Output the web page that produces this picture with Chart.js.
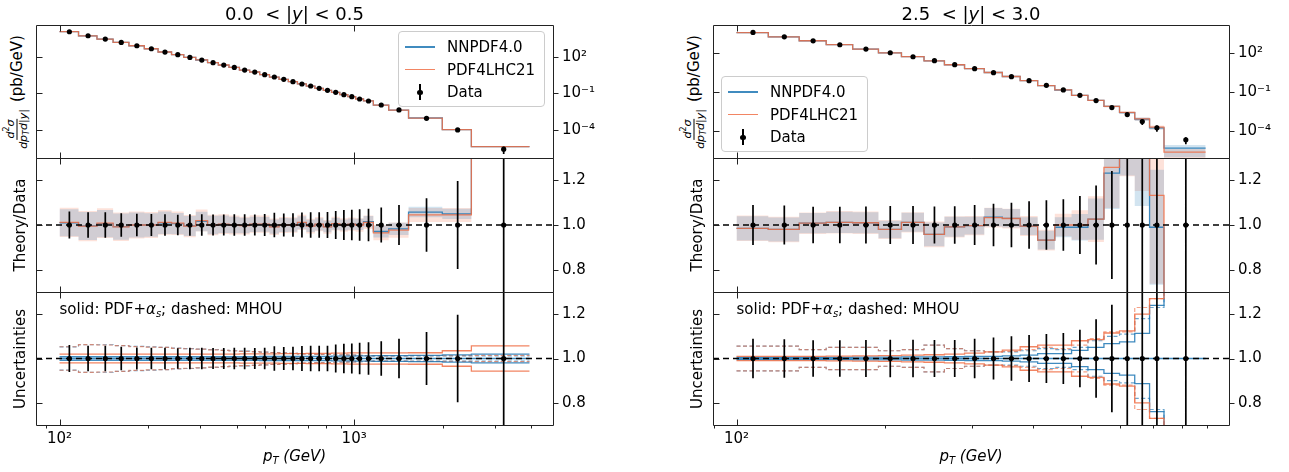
<!DOCTYPE html>
<html><head><meta charset="utf-8">
<script src="https://cdn.jsdelivr.net/npm/chart.js@4.4.1/dist/chart.umd.min.js"></script>
<style>
html,body{margin:0;padding:0;background:#fff}
body{width:1289px;height:472px;overflow:hidden;position:relative;font-family:"DejaVu Sans",sans-serif;color:#000}
canvas{position:absolute}
.txt{position:absolute;white-space:nowrap;font-size:15px;line-height:17px}
.title{position:absolute;white-space:nowrap;font-size:18px;line-height:20px;transform:translateX(-50%)}
.ylab{position:absolute;white-space:nowrap;font-size:15px;line-height:17px;transform:translate(-50%,-50%) rotate(-90deg);display:flex;align-items:center}
.frac{display:inline-flex;flex-direction:column;align-items:center;font-size:11px;line-height:12px;margin-right:7px}
.frac .num{border-bottom:1px solid #000;padding:0 1px}
sub{font-size:10px;line-height:0;vertical-align:-3px}
.legend{position:absolute;background:rgba(255,255,255,0.85);border:1px solid #ccc;border-radius:4px;box-sizing:border-box;padding:4px 6px;font-size:15px;z-index:5}
.legend .row{display:flex;align-items:center;height:22.5px}
.legend .sw{position:relative;width:30px;height:16px;margin-right:12px}
.legend .ln{position:absolute;left:0;right:0;top:7px;height:1.6px}
.legend .eb{position:absolute;left:14px;top:0;width:1.6px;height:16px;background:#000}
.legend .dot{position:absolute;left:12px;top:5.5px;width:5.5px;height:5.5px;border-radius:50%;background:#000}
</style></head><body>
<script>
// ---------------- DATA ----------------
// pT bin edges (GeV)
const edgesLeft  = [100,116,134,152,172,194,216,240,264,290,318,346,376,408,442,478,516,556,598,642,688,736,786,838,894,952,1012,1076,1162,1310,1530,1992,2500,3937];
const edgesRight = [100,116,134,152,172,194,216,240,264,290,318,346,376,408,442,478,516,556,598,642,688,736,894];

// measured cross section d2sigma/dpT d|y| (pb/GeV)
const dataLeft  = [1.11e4,5.22e3,2.79e3,1.49e3,7.94e2,4.51e2,2.41e2,1.46e2,8.81e1,5.33e1,3.23e1,2.08e1,1.34e1,8.11,5.56,3.37,2.17,1.40,0.902,0.581,0.398,0.257,0.176,0.121,7.78e-2,5.33e-2,3.44e-2,2.36e-2,1.11e-2,4.34e-3,9.02e-4,1.0e-4,2.63e-6];
const dataRight = [4.19e3,1.94e3,9.51e2,4.67e2,2.16e2,1.12e2,5.53e1,2.72e1,1.33e1,6.55,3.21,1.58,0.774,0.338,0.148,5.71e-2,2.21e-2,6.37e-3,1.84e-3,5.28e-4,1.71e-4,2.03e-5];

// relative data uncertainty
const errLeft  = [0.061,0.057,0.057,0.053,0.05,0.049,0.048,0.046,0.048,0.048,0.047,0.047,0.048,0.048,0.047,0.049,0.055,0.052,0.053,0.056,0.057,0.057,0.058,0.063,0.067,0.068,0.071,0.073,0.078,0.089,0.12,0.197,0.6];
const errRight = [0.089,0.087,0.082,0.082,0.083,0.085,0.085,0.083,0.084,0.089,0.095,0.1,0.106,0.111,0.115,0.13,0.177,0.242,0.35,0.45,0.5,0.55];

// Theory / Data
const ratioNNLeft   = [1.01,0.996,1.006,0.993,1.0,1.0,1.01,1.006,0.996,1.016,1.0,1.003,1.0,0.998,1.003,1.003,0.993,1.0,1.0,1.01,0.996,1.003,0.993,1.005,1.0,1.004,1.003,1.015,0.971,0.983,1.058,1.05,1.66];
const ratioPDFLeft  = [1.012,0.995,1.008,0.992,1.0,1.0,1.012,1.008,0.995,1.02,1.0,1.004,1.0,0.997,1.004,1.004,0.992,1.0,1.0,1.012,0.995,1.004,0.992,1.006,1.0,1.004,1.0,1.012,0.965,0.977,1.045,1.045,1.65];
const ratioNNRight  = [0.985,0.98,1.008,1.012,1.01,0.98,1.012,0.958,0.992,0.997,1.035,1.03,0.995,0.932,0.99,0.99,1.026,1.232,1.42,1.55,0.99,0.225];
const ratioPDFRight = [0.985,0.98,1.008,1.012,1.01,0.98,1.012,0.958,0.992,0.997,1.033,1.029,0.995,0.932,1.0,1.0,1.026,1.258,1.45,1.6,1.133,0.111];

// relative theory band (Theory/Data panel)
const bandNNLeft   = [0.06,0.063,0.061,0.059,0.056,0.053,0.05,0.047,0.045,0.043,0.041,0.039,0.037,0.035,0.034,0.033,0.032,0.031,0.03,0.029,0.028,0.027,0.026,0.026,0.025,0.025,0.025,0.025,0.028,0.028,0.022,0.022,0.08];
const bandPDFLeft  = [0.065,0.068,0.066,0.064,0.061,0.058,0.055,0.052,0.05,0.048,0.046,0.044,0.042,0.04,0.039,0.038,0.037,0.036,0.035,0.034,0.033,0.032,0.031,0.031,0.03,0.03,0.03,0.03,0.035,0.035,0.03,0.03,0.1];
const bandNNRight  = [0.055,0.055,0.045,0.047,0.047,0.04,0.042,0.055,0.045,0.04,0.04,0.04,0.04,0.045,0.045,0.06,0.09,0.13,0.14,0.3,0.26,0.8];
const bandPDFRight = [0.058,0.058,0.048,0.05,0.05,0.043,0.045,0.06,0.048,0.043,0.043,0.043,0.045,0.05,0.05,0.066,0.1,0.145,0.16,0.28,0.35,0.8];

// Uncertainties panel: PDF+alpha_s (solid) and MHOU (dashed), relative
const pdfNNLeft   = [0.008,0.008,0.008,0.008,0.008,0.008,0.008,0.008,0.008,0.008,0.008,0.008,0.008,0.008,0.008,0.009,0.009,0.009,0.009,0.01,0.01,0.01,0.01,0.011,0.011,0.011,0.012,0.012,0.013,0.013,0.014,0.016,0.02];
const pdfPDFLeft  = [0.02,0.02,0.02,0.02,0.02,0.02,0.02,0.02,0.02,0.02,0.02,0.02,0.02,0.021,0.021,0.021,0.021,0.022,0.022,0.022,0.023,0.023,0.023,0.024,0.024,0.025,0.025,0.025,0.025,0.025,0.026,0.035,0.057];
const mhouNNLeft  = [0.052,0.062,0.062,0.058,0.055,0.052,0.05,0.047,0.045,0.042,0.04,0.037,0.035,0.033,0.031,0.029,0.027,0.025,0.023,0.021,0.02,0.019,0.018,0.017,0.016,0.015,0.014,0.013,0.012,0.012,0.012,0.012,0.012];
const mhouPDFLeft = [0.053,0.063,0.061,0.058,0.054,0.051,0.05,0.046,0.044,0.042,0.039,0.037,0.034,0.032,0.031,0.029,0.027,0.025,0.023,0.021,0.02,0.019,0.018,0.017,0.016,0.015,0.014,0.013,0.012,0.012,0.013,0.013,0.014];
const pdfNNRight   = [0.005,0.005,0.005,0.005,0.006,0.006,0.007,0.007,0.008,0.009,0.01,0.012,0.015,0.022,0.022,0.037,0.05,0.067,0.075,0.113,0.24,0.45];
const pdfPDFRight  = [0.01,0.01,0.01,0.011,0.012,0.013,0.015,0.017,0.02,0.024,0.03,0.038,0.053,0.06,0.06,0.08,0.085,0.115,0.125,0.2,0.27,0.45];
const mhouNNRight  = [0.056,0.056,0.04,0.05,0.05,0.035,0.04,0.06,0.045,0.035,0.03,0.03,0.035,0.045,0.04,0.05,0.08,0.1,0.11,0.18,0.23,0.4];
const mhouPDFRight = [0.056,0.056,0.04,0.05,0.05,0.035,0.04,0.06,0.045,0.035,0.03,0.032,0.04,0.05,0.045,0.06,0.09,0.12,0.12,0.23,0.27,0.45];

// ticks
const xTickValues = [100, 1000];
const xTickLabels = ['10²', '10³'];
const xMinorTicks = [90,200,300,400,500,600,700,800,900,2000,3000,4000];
const yTopTickValues = [1e-4, 1e-1, 1e2];
const yTopTickLabels = ['10⁻⁴', '10⁻¹', '10²'];
const yRatioTickValues = [0.8, 1.0, 1.2];
const yRatioTickLabels = ['0.8', '1.0', '1.2'];

// text
const titles = ['0.0&nbsp; &lt; |<i>y</i>| &lt; 0.5', '2.5&nbsp; &lt; |<i>y</i>| &lt; 3.0'];
const seriesNames = ['NNPDF4.0', 'PDF4LHC21', 'Data'];

// ---------------- LAYOUT / STYLE ----------------
const FONT = '"DejaVu Sans", sans-serif';
const PAD = 2, RIGHTW = 60, BOTTOMH = 34;
const C_NN = 'rgba(31,119,180,0.85)', C_PDF = 'rgba(240,112,72,0.85)';
const B_NN = 'rgba(31,119,180,0.2)', B_PDF = 'rgba(245,110,70,0.2)';
const D_NN = 'rgba(31,119,180,0.65)', D_PDF = 'rgba(240,112,72,0.65)';
const ROWS = [{y0:25, y1:158}, {y0:158, y1:292}, {y0:292, y1:425}];
const PANELS = [
  {x0:36, x1:553, xMin:83.2, xMax:4732, yMin:Math.pow(10,-6.3), yMax:Math.pow(10,4.6),
   edges:edgesLeft, data:dataLeft, err:errLeft, rNN:ratioNNLeft, rPDF:ratioPDFLeft, bNN:bandNNLeft, bPDF:bandPDFLeft,
   pNN:pdfNNLeft, pPDF:pdfPDFLeft, mNN:mhouNNLeft, mPDF:mhouPDFLeft, legend:{left:398, top:31}},
  {x0:713, x1:1229, xMin:89.6, xMax:997, yMin:Math.pow(10,-6.1), yMax:Math.pow(10,4.2),
   edges:edgesRight, data:dataRight, err:errRight, rNN:ratioNNRight, rPDF:ratioPDFRight, bNN:bandNNRight, bPDF:bandPDFRight,
   pNN:pdfNNRight, pPDF:pdfPDFRight, mNN:mhouNNRight, mPDF:mhouPDFRight, legend:{left:721, top:76}}
];

// ---------------- helpers ----------------
function stepPts(edges, vals){
  const pts = vals.map((v,i)=>({x:edges[i], y:v}));
  pts.push({x:edges[edges.length-1], y:vals[vals.length-1]});
  return pts;
}
function lineDS(edges, vals, color, order, extra){
  return Object.assign({type:'line', data:stepPts(edges, vals), borderColor:color, borderWidth:1.3,
    pointRadius:0, stepped:true, fill:false, order:order}, extra||{});
}
function bandDS(list, edges, up, lo, color, order){
  list.push({type:'line', data:stepPts(edges, up), borderColor:'rgba(0,0,0,0)', borderWidth:1, pointRadius:0,
    stepped:true, fill:'+1', backgroundColor:color, order:order});
  list.push({type:'line', data:stepPts(edges, lo), borderColor:'rgba(0,0,0,0)', borderWidth:1, pointRadius:0,
    stepped:true, fill:false, order:order});
}
function pointsDS(xs, ys){
  return {type:'line', data:xs.map((x,i)=>({x:x, y:ys[i]})), showLine:false, pointRadius:2.6,
    pointBackgroundColor:'#000', pointBorderWidth:0, order:0};
}
function errDS(xs, ys, err){
  const pts = [];
  xs.forEach((x,i)=>{ pts.push({x:x, y:ys[i]*(1-err[i])}, {x:x, y:ys[i]*(1+err[i])}, {x:x, y:null}); });
  return {type:'line', data:pts, borderColor:'#000', borderWidth:1.7, pointRadius:0, spanGaps:false, order:1};
}

const axesDeco = {
  id:'axesDeco',
  afterDatasetsDraw(chart, args, o){
    const {ctx, chartArea:a} = chart; const x = chart.scales.x, y = chart.scales.y;
    ctx.save(); ctx.strokeStyle = '#222'; ctx.lineWidth = 1; ctx.beginPath();
    const L = Math.round(a.left)+0.5, R = Math.round(a.right)+0.5, T = Math.round(a.top)+0.5, B = Math.round(a.bottom)+0.5;
    ctx.rect(L, T, R-L, B-T);
    for (const v of xTickValues){ if (v < x.min || v > x.max) continue;
      const px = Math.round(x.getPixelForValue(v))+0.5;
      ctx.moveTo(px, T); ctx.lineTo(px, T+6); ctx.moveTo(px, B); ctx.lineTo(px, B-6); }
    if (o.minor) for (const v of xMinorTicks){ if (v < x.min || v > x.max) continue;
      const px = Math.round(x.getPixelForValue(v))+0.5; ctx.moveTo(px, B); ctx.lineTo(px, B+3); }
    for (const v of o.yTicks){ const py = Math.round(y.getPixelForValue(v))+0.5;
      ctx.moveTo(L, py); ctx.lineTo(L+6, py); ctx.moveTo(R, py); ctx.lineTo(R+5, py); }
    ctx.stroke(); ctx.restore();
  }
};

function addDiv(cls, html, style){
  const d = document.createElement('div'); d.className = cls; d.innerHTML = html;
  Object.assign(d.style, style); document.body.appendChild(d); return d;
}

function makeChart(P, R, r, datasets){
  const isBottom = r === 2, isTop = r === 0;
  const cv = document.createElement('canvas');
  const w = (P.x1 - P.x0) + PAD + RIGHTW, h = (R.y1 - R.y0) + PAD + (isBottom ? BOTTOMH : PAD);
  cv.width = w; cv.height = h;
  cv.style.left = (P.x0 - PAD) + 'px'; cv.style.top = (R.y0 - PAD) + 'px';
  cv.style.width = w + 'px'; cv.style.height = h + 'px';
  document.body.appendChild(cv);
  const yVals = isTop ? yTopTickValues : yRatioTickValues;
  const yLabs = isTop ? yTopTickLabels : yRatioTickLabels;
  const xOpts = {type:'logarithmic', min:P.xMin, max:P.xMax, display:isBottom,
     grid:{display:false, drawTicks:false}, border:{display:false},
     afterBuildTicks:(s)=>{ s.ticks = xTickValues.filter(v=>v>=P.xMin && v<=P.xMax).map(v=>({value:v})); },
     afterFit:(s)=>{ if (isBottom) s.height = BOTTOMH; s.paddingLeft = 0; s.paddingRight = 0; s.paddingTop = 0; s.paddingBottom = 0; },
     ticks:{autoSkip:false, maxRotation:0, minRotation:0, padding:5, color:'#000', font:{family:FONT, size:15},
       callback:(v)=>{ const k = xTickValues.indexOf(v); return k>=0 ? xTickLabels[k] : ''; }}};
  return new Chart(cv.getContext('2d'), {
    type:'line',
    data:{datasets:datasets},
    options:{
      responsive:false, animation:false, events:[], devicePixelRatio:1,
      layout:{autoPadding:false, padding:{left:PAD, top:PAD, right:0, bottom:isBottom?0:PAD}},
      plugins:{legend:{display:false}, tooltip:{enabled:false}, axesDeco:{minor:isBottom, yTicks:yVals}},
      scales:{
        x:xOpts,
        y:{type:isTop?'logarithmic':'linear', position:'right',
           min:isTop?P.yMin:0.7, max:isTop?P.yMax:1.3,
           grid:{display:false, drawTicks:false}, border:{display:false},
           afterBuildTicks:(s)=>{ s.ticks = yVals.map(v=>({value:v})); },
           afterFit:(s)=>{ s.width = RIGHTW; s.paddingTop = 0; s.paddingBottom = 0; s.paddingLeft = 0; s.paddingRight = 0; },
           ticks:{autoSkip:false, padding:9, color:'#000', font:{family:FONT, size:15},
             callback:(v)=>{ let k = -1; yVals.forEach((t,i)=>{ if (Math.abs(t-v) <= Math.abs(t)*1e-6) k = i; }); return k>=0 ? yLabs[k] : ''; }}}
      }
    },
    plugins:[axesDeco]
  });
}

// ---------------- build ----------------
PANELS.forEach((P, pi) => {
  const mids = P.edges.slice(0, -1).map((e, i) => (e + P.edges[i+1]) / 2);
  const ones = P.data.map(() => 1);
  const thNN = P.data.map((d, i) => d * P.rNN[i]);
  const thPDF = P.data.map((d, i) => d * P.rPDF[i]);
  const refLine = {type:'line', data:[{x:P.xMin, y:1}, {x:P.xMax, y:1}], borderColor:'#000', borderWidth:1.5,
    borderDash:[6,4], pointRadius:0, order:2};
  let bottomChart = null;

  ROWS.forEach((R, r) => {
    const ds = [];
    if (r === 0) {
      ds.push(pointsDS(mids, P.data));
      ds.push(errDS(mids, P.data, P.err));
      ds.push(lineDS(P.edges, thPDF, C_PDF, 3));
      ds.push(lineDS(P.edges, thNN, C_NN, 4));
      bandDS(ds, P.edges, thPDF.map((t,i)=>t*(1+P.bPDF[i])), thPDF.map((t,i)=>t*(1-P.bPDF[i])), B_PDF, 11);
      bandDS(ds, P.edges, thNN.map((t,i)=>t*(1+P.bNN[i])), thNN.map((t,i)=>t*(1-P.bNN[i])), B_NN, 10);
    } else if (r === 1) {
      ds.push(pointsDS(mids, ones));
      ds.push(errDS(mids, ones, P.err));
      ds.push(Object.assign({}, refLine));
      ds.push(lineDS(P.edges, P.rPDF, C_PDF, 3));
      ds.push(lineDS(P.edges, P.rNN, C_NN, 4));
      bandDS(ds, P.edges, P.rPDF.map((t,i)=>t*(1+P.bPDF[i])), P.rPDF.map((t,i)=>t*(1-P.bPDF[i])), B_PDF, 11);
      bandDS(ds, P.edges, P.rNN.map((t,i)=>t*(1+P.bNN[i])), P.rNN.map((t,i)=>t*(1-P.bNN[i])), B_NN, 10);
    } else {
      ds.push(pointsDS(mids, ones));
      ds.push(errDS(mids, ones, P.err));
      ds.push(Object.assign({}, refLine));
      ds.push(lineDS(P.edges, ones, C_NN, 5, {borderWidth:1.5}));
      ds.push(lineDS(P.edges, P.pPDF.map(v=>1+v), C_PDF, 3));
      ds.push(lineDS(P.edges, P.pPDF.map(v=>1-v), C_PDF, 3));
      ds.push(lineDS(P.edges, P.pNN.map(v=>1+v), C_NN, 4));
      ds.push(lineDS(P.edges, P.pNN.map(v=>1-v), C_NN, 4));
      ds.push(lineDS(P.edges, P.mPDF.map(v=>1+v), D_PDF, 6, {borderDash:[4,2.5], borderWidth:1.2}));
      ds.push(lineDS(P.edges, P.mPDF.map(v=>1-v), D_PDF, 6, {borderDash:[4,2.5], borderWidth:1.2}));
      ds.push(lineDS(P.edges, P.mNN.map(v=>1+v), D_NN, 7, {borderDash:[4,2.5], borderWidth:1.2}));
      ds.push(lineDS(P.edges, P.mNN.map(v=>1-v), D_NN, 7, {borderDash:[4,2.5], borderWidth:1.2}));
    }
    const ch = makeChart(P, R, r, ds);
    if (r === 2) bottomChart = ch;
  });

  // texts
  const cx = (P.x0 + P.x1) / 2;
  addDiv('title', titles[pi], {left:cx+'px', top:'4px'});
  addDiv('txt', '<i>p</i><sub><i>T</i></sub> <i>(GeV)</i>', {left:cx+'px', top:'448px', transform:'translateX(-50%)'});
  addDiv('ylab', '<span class="frac"><span class="num"><i>d</i><sup style="font-size:8px;line-height:0">2</sup><i>σ</i></span><span class="den"><i>dp</i><sub style="font-size:8px;vertical-align:-2px"><i>T</i></sub><i>d</i>|<i>y</i>|</span></span>(pb/GeV)',
    {left:(P.x0-19)+'px', top:((ROWS[0].y0+ROWS[0].y1)/2)+'px'});
  addDiv('ylab', 'Theory/Data', {left:(P.x0-16)+'px', top:((ROWS[1].y0+ROWS[1].y1)/2)+'px'});
  addDiv('ylab', 'Uncertainties', {left:(P.x0-16)+'px', top:((ROWS[2].y0+ROWS[2].y1)/2)+'px'});
  const tx = P.x0 - PAD + bottomChart.scales.x.getPixelForValue(100);
  addDiv('txt', 'solid: PDF+<i>α</i><sub><i>s</i></sub>; dashed: MHOU', {left:tx+'px', top:'301px'});

  // legend
  addDiv('legend',
    '<div class="row"><span class="sw"><span class="ln" style="background:'+C_NN+'"></span></span>'+seriesNames[0]+'</div>'+
    '<div class="row"><span class="sw"><span class="ln" style="background:'+C_PDF+'"></span></span>'+seriesNames[1]+'</div>'+
    '<div class="row"><span class="sw"><span class="eb"></span><span class="dot"></span></span>'+seriesNames[2]+'</div>',
    {left:P.legend.left+'px', top:P.legend.top+'px', width:'147px', height:'76px'});
});
</script>
</body></html>
